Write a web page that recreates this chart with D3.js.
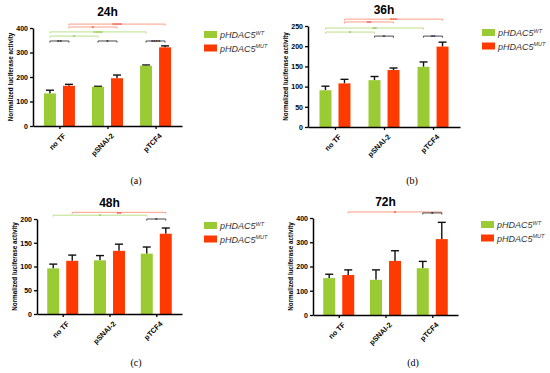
<!DOCTYPE html>
<html>
<head>
<meta charset="utf-8">
<script src="https://cdn.jsdelivr.net/npm/d3@7"></script>
<style>
  body { margin: 0; background: #fff; }
  svg { display: block; font-family: "Liberation Sans", Arial, sans-serif; }
</style>
</head>
<body>
<script>
// values (24h, 36h, 48h, 72h)
var categories = ["no TF", "pSNAI-2", "pTCF4"];
var series = ["WT", "MUT"];
var times = ["24h", "36h", "48h", "72h"];
var captions = ["(a)", "(b)", "(c)", "(d)"];

var wtMean  = [[133, 160, 246], [91, 116, 149], [96, 113, 127], [152, 145, 193]];
var wtTop   = [[146, 162, 249], [101, 125, 161], [105, 123, 141], [168, 186, 221]];
var mutMean = [[164, 195, 321], [108, 141, 199], [112, 133, 169], [165, 223, 313]];
var mutTop  = [[170, 208, 327], [118, 146, 210], [124, 147, 181], [186, 265, 382]];

var yMax  = [400, 250, 200, 400];
var yStep = [100, 50, 50, 100];

// significance brackets: [category A, series A, category B, series B, stars, height in data units]
var sig24 = [[0, 1, 2, 1, "****", 416], [0, 1, 1, 1, "*", 404], [0, 0, 2, 0, "****", 384],
             [0, 0, 1, 0, "*", 367], [0, 0, 0, 1, "**", 347], [1, 0, 1, 1, "*", 347], [2, 0, 2, 1, "****", 347]];
var sig36 = [[0, 1, 2, 1, "***", 267], [0, 1, 1, 1, "**", 260], [0, 0, 2, 0, "**", 245],
             [0, 0, 1, 0, "*", 235], [1, 0, 1, 1, "*", 225], [2, 0, 2, 1, "**", 225]];
var sig48 = [[0, 1, 2, 1, "**", 214], [0, 0, 2, 0, "*", 208], [2, 0, 2, 1, "*", 200]];
var sig72 = [[0, 1, 2, 1, "*", 425], [2, 0, 2, 1, "*", 421]];
var sigs = [sig24, sig36, sig48, sig72];

var barColors = ["#9acb34", "#ff3a00"];
var sigLineColors = ["#b4dd7a", "#ff9278", "#333"];
var sigTextColors = ["#8cc63f", "#ff4a2a", "#222"];

// panel frames (axis positions in page pixels)
var frames = [
  {left: 33,  right: 182, top: 28,  bottom: 126, legendX: 204, capX: 136, capY: 184},
  {left: 308, right: 460, top: 26,  bottom: 127, legendX: 482, capX: 412, capY: 184},
  {left: 37,  right: 182, top: 219, bottom: 314, legendX: 204, capX: 136, capY: 366},
  {left: 313, right: 458, top: 218, bottom: 315, legendX: 481, capX: 413, capY: 366}
];

var svg = d3.select("body").append("svg").attr("width", 550).attr("height", 373);
svg.append("rect").attr("width", 550).attr("height", 373).attr("fill", "#fff");

frames.forEach(function(f, p) {
  var g = svg.append("g").attr("transform", "translate(" + f.left + "," + f.top + ")");
  var w = f.right - f.left, h = f.bottom - f.top;

  var x0 = d3.scalePoint().domain(categories).range([0, w]).padding(0.55);
  var x1 = d3.scaleBand().domain(series).range([-15.5, 15.5]).paddingInner(0.37);
  var y = d3.scaleLinear().domain([0, yMax[p]]).range([h, 0]);

  var rows = [];
  categories.forEach(function(c, i) {
    rows.push({cat: c, s: "WT", v: wtMean[p][i], top: wtTop[p][i], k: 0});
    rows.push({cat: c, s: "MUT", v: mutMean[p][i], top: mutTop[p][i], k: 1});
  });
  function cx(d) { return x0(d.cat) + x1(d.s) + x1.bandwidth() / 2; }

  // error bars (upper half only)
  var eb = g.selectAll(".err").data(rows).enter().append("g").attr("class", "err")
      .attr("stroke", "#111").attr("stroke-width", 1.4);
  eb.append("line").attr("x1", cx).attr("x2", cx)
      .attr("y1", function(d) { return y(d.v); }).attr("y2", function(d) { return y(d.top); });
  eb.append("line").attr("x1", function(d) { return cx(d) - 4; }).attr("x2", function(d) { return cx(d) + 4; })
      .attr("y1", function(d) { return y(d.top); }).attr("y2", function(d) { return y(d.top); });

  g.selectAll(".bar").data(rows).enter().append("rect")
      .attr("x", function(d) { return x0(d.cat) + x1(d.s); })
      .attr("width", x1.bandwidth())
      .attr("y", function(d) { return y(d.v); })
      .attr("height", function(d) { return h - y(d.v); })
      .attr("fill", function(d) { return barColors[d.k]; });

  // axes
  var ya = g.append("g")
      .call(d3.axisLeft(y).tickValues(d3.range(0, yMax[p] + 1, yStep[p])).tickSize(3).tickSizeOuter(0).tickPadding(2));
  var xa = g.append("g").attr("transform", "translate(0," + h + ")")
      .call(d3.axisBottom(x0).tickSize(3).tickSizeOuter(0));
  [ya, xa].forEach(function(a) {
    a.select(".domain").attr("stroke", "#000").attr("stroke-width", 1.5);
    a.selectAll(".tick line").attr("stroke", "#000").attr("stroke-width", 1.3);
  });
  ya.selectAll(".tick text").attr("font-size", 7).attr("font-weight", "bold").attr("fill", "#000");
  xa.selectAll(".tick text").attr("font-size", 7.3).attr("font-weight", "bold").attr("fill", "#000")
      .attr("text-anchor", "end").attr("dy", "0.5em").attr("dx", "-0.1em")
      .attr("transform", "translate(0,3) rotate(-45)");

  g.append("text").attr("transform", "translate(-20," + h / 2 + ") rotate(-90)")
      .attr("text-anchor", "middle").attr("font-size", 6.3).attr("font-weight", "bold")
      .text("Normalized luciferase activity");

  g.append("text").attr("x", w / 2).attr("y", -12).attr("text-anchor", "middle")
      .attr("font-size", 12).attr("font-weight", "bold").text(times[p]);

  // significance brackets
  sigs[p].forEach(function(s) {
    var xa1 = x0(categories[s[0]]) + x1(series[s[1]]) + x1.bandwidth() / 2;
    var xb1 = x0(categories[s[2]]) + x1(series[s[3]]) + x1.bandwidth() / 2;
    var kind = s[0] === s[2] ? 2 : (s[1] === 1 ? 1 : 0);
    var yy = y(s[5]);
    g.append("path")
        .attr("d", "M" + xa1 + "," + (yy + 1.5) + "V" + yy + "H" + xb1 + "V" + (yy + 1.5))
        .attr("fill", "none").attr("stroke", sigLineColors[kind]).attr("stroke-width", 0.9);
    g.append("text").attr("x", (xa1 + xb1) / 2).attr("y", yy + 3.2).attr("text-anchor", "middle")
        .attr("font-size", 6).attr("font-weight", "bold").attr("fill", sigTextColors[kind]).text(s[4]);
  });

  // legend
  series.forEach(function(s, k) {
    var ly = f.top + 3 + k * 13.5;
    svg.append("rect").attr("x", f.legendX).attr("y", ly).attr("width", 13).attr("height", 7)
        .attr("fill", barColors[k]);
    var t = svg.append("text").attr("x", f.legendX + 16).attr("y", ly + 7)
        .attr("font-size", 9).attr("font-style", "italic").attr("fill", "#333").text("pHDAC5");
    t.append("tspan").attr("font-size", 5.5).attr("dy", -3.5).text(s);
  });

  svg.append("text").attr("x", f.capX).attr("y", f.capY).attr("text-anchor", "middle")
      .attr("font-family", "'Liberation Serif', 'DejaVu Serif', serif").attr("font-size", 10)
      .text(captions[p]);
});
</script>
</body>
</html>
